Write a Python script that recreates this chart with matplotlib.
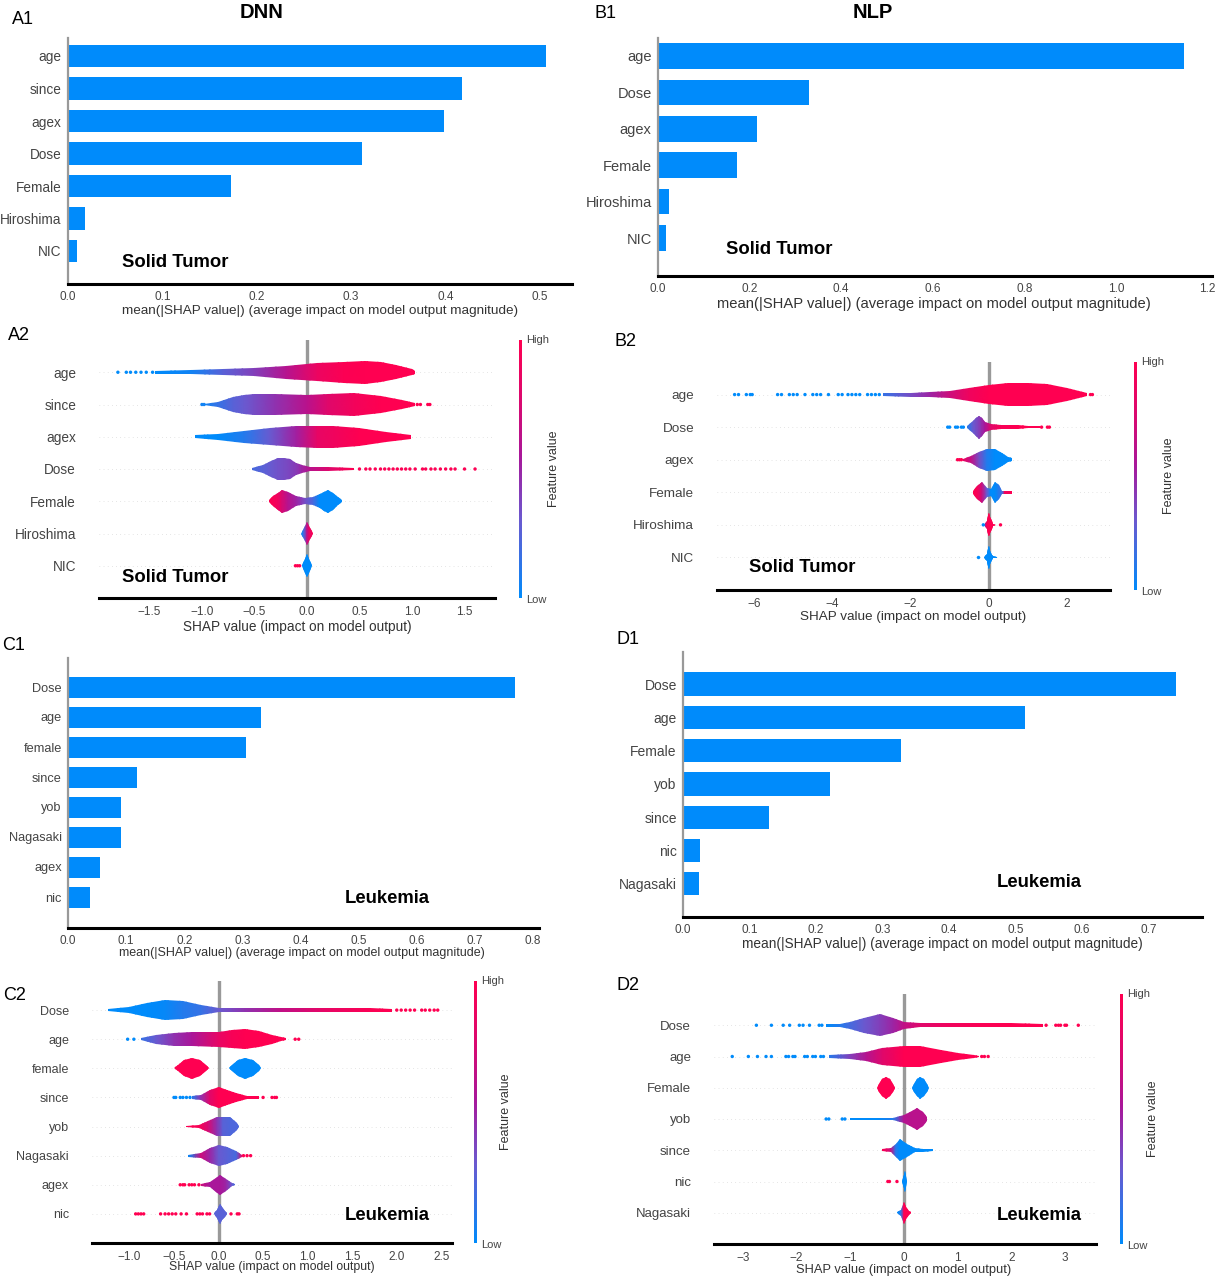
import matplotlib
matplotlib.use('Agg')
import matplotlib.pyplot as plt
import numpy as np
from matplotlib.colors import LinearSegmentedColormap
from matplotlib.patches import Polygon

plt.rcParams['font.family'] = ['Liberation Sans', 'DejaVu Sans']

W, H = 1216, 1280
BLUE = '#008bfb'
TEXT = '#444444'
shap_cmap = LinearSegmentedColormap.from_list(
    'shap', [(0, '#008bfb'), (0.3, '#6a5ad0'), (0.55, '#a9179a'), (0.75, '#d80a72'), (1, '#ff0051')])

# Bar panels
A1_labels = ['age', 'since', 'agex', 'Dose', 'Female', 'Hiroshima', 'NIC']
A1_values = [0.506, 0.4175, 0.3985, 0.312, 0.173, 0.018, 0.0095]
A1_ticks = [0.0, 0.1, 0.2, 0.3, 0.4, 0.5]

B1_labels = ['age', 'Dose', 'agex', 'Female', 'Hiroshima', 'NIC']
B1_values = [1.148, 0.33, 0.216, 0.172, 0.024, 0.017]
B1_ticks = [0.0, 0.2, 0.4, 0.6, 0.8, 1.0, 1.2]

C1_labels = ['Dose', 'age', 'female', 'since', 'yob', 'Nagasaki', 'agex', 'nic']
C1_values = [0.769, 0.332, 0.306, 0.119, 0.091, 0.091, 0.055, 0.038]
C1_ticks = [0.0, 0.1, 0.2, 0.3, 0.4, 0.5, 0.6, 0.7, 0.8]

D1_labels = ['Dose', 'age', 'Female', 'yob', 'since', 'nic', 'Nagasaki']
D1_values = [0.741, 0.514, 0.328, 0.221, 0.129, 0.026, 0.024]
D1_ticks = [0.0, 0.1, 0.2, 0.3, 0.4, 0.5, 0.6, 0.7]

# Violin panels, one entry per feature: knots x, half width, feature colour, stray dots
A2_labels = ['age', 'since', 'agex', 'Dose', 'Female', 'Hiroshima', 'NIC']
A2_ticks = [-1.5, -1.0, -0.5, 0.0, 0.5, 1.0, 1.5]
A2_x = [[-1.45, -1.1, -0.8, -0.5, -0.2, 0.1, 0.35, 0.55, 0.7, 0.85, 1.0, 1.03],
        [-0.98, -0.85, -0.7, -0.6, -0.5, -0.3, 0, 0.2, 0.45, 0.7, 0.9, 1.03],
        [-1.07, -0.85, -0.6, -0.35, -0.1, 0.1, 0.25, 0.5, 0.75, 0.99],
        [-0.52, -0.42, -0.34, -0.28, -0.22, -0.16, -0.1, -0.05, 0.03, 0.2, 0.45],
        [-0.36, -0.32, -0.28, -0.24, -0.18, -0.1, -0.02, 0.06, 0.12, 0.16, 0.2, 0.25, 0.3, 0.33],
        [-0.06, -0.03, 0, 0.02, 0.06],
        [-0.05, -0.02, 0, 0.02, 0.05]]
A2_w = [[.05, .06, .09, .13, .2, .28, .33, .35, .31, .22, .1, .05],
        [.03, .09, .22, .3, .34, .33, .31, .33, .35, .27, .14, .05],
        [.04, .1, .18, .27, .33, .34, .34, .28, .16, .06],
        [.03, .13, .26, .33, .35, .3, .2, .12, .07, .05, .04],
        [.03, .15, .27, .35, .29, .15, .1, .12, .22, .3, .35, .26, .13, .03],
        [0, .17, .35, .22, .01],
        [.01, .22, .35, .22, .01]]
A2_c = [[0, .05, .25, .4, .6, .88, .98, 1, 1, 1, 1, 1],
        [.05, .15, .25, .3, .35, .45, .62, .8, .92, 1, 1, 1],
        [0, 0, .1, .3, .52, .85, .9, 1, 1, 1],
        [.2, .25, .3, .33, .35, .38, .42, .5, .62, .78, 1],
        [1, .95, .9, .75, .6, .5, .35, .2, 0, 0, 0, 0, 0, 0],
        [0, .2, .65, .85, 1],
        [0, 0, 0, 0, 0]]
A2_dots = [[-1.8, -1.72, -1.68, -1.63, -1.58, -1.53, -1.47],
           [-1.0, -0.98, 1.05, 1.08, 1.15, 1.17],
           [],
           [.5, .56, .6, .65, .7, .74, .78, .82, .86, .9, .94, .98, 1.03, 1.1, 1.13, 1.18, 1.22, 1.27, 1.32, 1.37, 1.41, 1.5, 1.6],
           [], [],
           [-.11, -.09, -.07]]
A2_dot_c = [[0] * 7, [.05, .05, 1, 1, 1, 1], [], [.98] * 23, [], [], [1, 1, 1]]

B2_labels = ['age', 'Dose', 'agex', 'Female', 'Hiroshima', 'NIC']
B2_ticks = [-6, -4, -2, 0, 2]
B2_x = [[-2.7, -2, -1.5, -1, -.5, 0, .5, 1, 1.5, 2, 2.3, 2.5],
        [-.55, -.4, -.32, -.25, -.18, -.1, .05, .3, .75, 1.0, 1.3],
        [-.65, -.45, -.25, -.05, .15, .35, .5, .6],
        [-.4, -.3, -.18, -.05, .05, .15, .25, .35, .4, .6],
        [-.12, -.05, -.02, 0, .03, .07, .12, .18],
        [-.12, -.05, -.02, 0, .03, .07, .12, .2]]
B2_w = [[.05, .06, .08, .12, .2, .29, .34, .35, .32, .2, .1, .05],
        [.03, .18, .28, .35, .28, .16, .09, .07, .06, .04, .03],
        [.03, .1, .25, .34, .33, .2, .08, .04],
        [.05, .2, .33, .14, .1, .33, .22, .05, .04, .04],
        [.01, .12, .27, .35, .25, .12, .04, .01],
        [.01, .12, .27, .35, .2, .08, .03, .01]]
B2_c = [[.15, .35, .5, .7, .9, 1, 1, 1, 1, 1, 1, 1],
        [.1, .3, .35, .4, .47, .55, .8, .95, 1, 1, 1],
        [.85, .65, .35, .1, 0, 0, 0, 0],
        [1, .95, .7, .3, 0, 0, .1, .2, .9, 1],
        [.5, .9, 1, 1, 1, 1, 1, 1],
        [0, 0, 0, 0, 0, 0, 0, 0]]
B2_dots = [[-6.5, -6.4, -6.2, -6.1, -6.05, -5.4, -5.3, -5.1, -5.0, -4.9, -4.7, -4.5, -4.4, -4.3, -4.1,
            -3.85, -3.75, -3.6, -3.5, -3.4, -3.3, -3.1, -3.0, -2.9, -2.8, 2.6, 2.65],
           [-1.05, -1.0, -.85, -.8, -.7, -.65, 1.35, 1.5, 1.55],
           [-.8, -.75, -.7],
           [],
           [-.14, .3],
           [-.28]]
B2_dot_c = [[0] * 25 + [1, 1], [0] * 6 + [1] * 3, [1] * 3, [], [0, 1], [0]]

C2_labels = ['Dose', 'age', 'female', 'since', 'yob', 'Nagasaki', 'agex', 'nic']
C2_ticks = [-1.0, -0.5, 0.0, 0.5, 1.0, 1.5, 2.0, 2.5]
C2_x = [[-1.24, -1, -.8, -.6, -.4, -.2, 0, .3, .7, 1.2, 1.7, 1.95],
        [-.87, -.7, -.5, -.3, 0, .15, .3, .45, .6, .7, .76],
        [-.5, -.46, -.39, -.3, -.21, -.14, -.11, .12, .15, .22, .3, .39, .45, .48],
        [-.3, -.2, -.1, 0, .1, .2, .32, .45],
        [-.36, -.22, -.12, -.02, .05, .13, .2, .23],
        [-.34, -.2, -.1, 0, .1, .2, .26],
        [-.2, -.1, -.03, .02, .08, .15, .18],
        [-.05, -.02, 0, .02, .04, .07, .1]]
C2_w = [[.03, .11, .25, .35, .32, .17, .08, .06, .08, .08, .07, .05],
        [.04, .15, .22, .24, .25, .31, .35, .28, .16, .06, .04],
        [0, .1, .27, .35, .27, .1, 0, 0, .1, .27, .35, .27, .1, 0],
        [.04, .1, .25, .35, .26, .14, .05, .04],
        [.03, .05, .2, .33, .34, .33, .14, .03],
        [.03, .08, .25, .35, .3, .15, .03],
        [.03, .08, .25, .35, .2, .05, .02],
        [.02, .15, .27, .35, .22, .1, .02]]
C2_c = [[0, 0, 0, .02, .1, .15, .3, .45, .65, .85, .97, 1],
        [.15, .3, .45, .55, .85, .95, 1, 1, 1, 1, 1],
        [1, 1, 1, 1, 1, 1, 1, 0, 0, 0, 0, 0, 0, 0],
        [.1, .45, .8, 1, 1, 1, 1, 1],
        [1, .95, .75, .45, .25, .22, .22, .22],
        [0, .7, .5, .3, .25, .2, .8],
        [.7, .55, .55, .55, .5, .3, .2],
        [.25, .25, .25, .25, .25, .25, .25]]
C2_dots = [[2.0, 2.05, 2.1, 2.15, 2.2, 2.28, 2.32, 2.37, 2.42, 2.46],
           [-1.02, -.95, .86, .9],
           [],
           [-.5, -.48, -.43, -.4, -.36, -.32, .5, .6, .63, .65],
           [],
           [.28, .32, .36],
           [-.43, -.4, -.38, -.33, -.3, -.27, -.22],
           [-.93, -.9, -.87, -.84, -.65, -.6, -.56, -.52, -.48, -.42, -.36, -.24, -.21, -.18, -.13, -.1, .14, .21, .23]]
C2_dot_c = [[1] * 10, [0, 0, 1, 1], [], [0] * 6 + [1] * 4, [], [1] * 3, [1] * 7, [1] * 19]

D2_labels = ['Dose', 'age', 'Female', 'yob', 'since', 'nic', 'Nagasaki']
D2_ticks = [-3, -2, -1, 0, 1, 2, 3]
D2_x = [[-1.45, -1.2, -1, -.75, -.45, -.2, 0, .3, .8, 1.4, 2, 2.6],
        [-1.4, -1, -.7, -.4, 0, .3, .7, 1, 1.3, 1.4],
        [-.5, -.46, -.4, -.33, -.26, -.2, -.16, .15, .19, .24, .3, .37, .43, .46],
        [-1, -.5, -.2, 0, .15, .25, .35, .43],
        [-.4, -.25, -.15, -.08, .05, .2, .35, .54],
        [-.03, 0, .02, .05],
        [-.13, -.06, 0, .03, .09, .14]]
D2_w = [[.04, .05, .12, .24, .35, .24, .12, .07, .06, .06, .06, .04],
        [.04, .07, .15, .26, .35, .33, .22, .1, .04, .03],
        [0, .12, .27, .35, .27, .12, 0, 0, .12, .27, .35, .27, .12, 0],
        [.03, .03, .04, .12, .25, .35, .22, .07],
        [.03, .06, .2, .35, .2, .06, .04, .03],
        [.02, .2, .35, .02],
        [.02, .1, .35, .2, .07, .02]]
D2_c = [[0, .1, .2, .3, .4, .5, .65, .8, .9, .97, 1, 1],
        [.1, .4, .6, .8, 1, 1, 1, 1, 1, 1],
        [1, 1, 1, 1, 1, 1, 1, 0, 0, 0, 0, 0, 0, 0],
        [0, 0, .1, .6, .62, .62, .62, .62],
        [1, .7, .1, 0, 0, 0, 0, 0],
        [0, 0, 0, 0],
        [0, .1, 1, 1, 1, 1]]
D2_dots = [[-2.75, -2.47, -2.25, -2.13, -1.95, -1.88, -1.76, -1.58, -1.53, 2.65, 2.83, 2.88, 2.92, 3.0, 3.03, 3.25],
           [-3.2, -2.9, -2.73, -2.57, -2.47, -2.2, -2.15, -2.07, -2.03, -1.85, -1.8, -1.7, -1.65, -1.55, -1.5, 1.45, 1.5, 1.57],
           [],
           [-1.45, -1.4, -1.15, -1.1],
           [],
           [-.3, -.27, -.13],
           []]
D2_dot_c = [[0] * 9 + [1] * 7, [0] * 15 + [1] * 3, [], [0] * 4, [], [1] * 3, []]


def px_axes(left, top, right, bottom):
    return fig.add_axes([left / W, 1 - bottom / H, (right - left) / W, (bottom - top) / H])


def px_text(x, y, s, **kw):
    kw.setdefault('ha', 'center')
    kw.setdefault('va', 'center')
    fig.text(x / W, 1 - y / H, s, **kw)


def bar_panel(rect, xlim, first, step, labels, values, ticks, xlabel_pos, xlabel_size, label_size, note, note_pos):
    left, top, right, bottom = rect
    ax = px_axes(*rect)
    ax.barh(range(len(values)), values, height=0.7, color=BLUE)
    ax.set_xlim(0, xlim)
    ax.set_ylim((bottom - first) / step, (top - first) / step)
    ax.set_yticks(range(len(labels)), labels)
    ax.set_xticks(ticks, [f'{t:.1f}' for t in ticks])
    ax.tick_params(axis='y', length=0, labelsize=label_size, labelcolor=TEXT, pad=4.5)
    ax.tick_params(axis='x', length=0, labelsize=8.5, labelcolor=TEXT, pad=5)
    for s in ['top', 'right']:
        ax.spines[s].set_visible(False)
    ax.spines['left'].set_color('#999999')
    ax.spines['left'].set_linewidth(1.6)
    ax.spines['bottom'].set_linewidth(2.2)
    px_text(*xlabel_pos, 'mean(|SHAP value|) (average impact on model output magnitude)', fontsize=xlabel_size, color='#333333')
    px_text(note_pos[0], note_pos[1] + 1.5, note, fontsize=13.3, fontweight='bold', color='black')


def violin_panel(rect, xlim, labels, xs, ws, cs, dots, dot_c, ticks, xlabel_pos, xlabel_size, label_size,
                 note, note_pos, cbar_x, cbar_label_x):
    left, top, right, bottom = rect
    ax = px_axes(*rect)
    n = len(labels)
    ax.axvline(0, color='#999999', lw=2.4, zorder=1)
    for i in range(n):
        ax.axhline(i, color='#cccccc', lw=0.5, dashes=(1, 5), zorder=0)
        x = np.array(xs[i], dtype=float)
        w = np.array(ws[i], dtype=float)
        c = np.array(cs[i], dtype=float)
        X = np.vstack([x, x])
        Y = np.vstack([np.full_like(x, i - 0.5), np.full_like(x, i + 0.5)])
        mesh = ax.pcolormesh(X, Y, np.vstack([c, c]), shading='gouraud', cmap=shap_cmap, vmin=0, vmax=1, zorder=3)
        outline = np.r_[np.c_[x, i - w], np.c_[x[::-1], i + w[::-1]]]
        mesh.set_clip_path(Polygon(outline, closed=True, transform=ax.transData))
        if dots[i]:
            ax.scatter(dots[i], [i] * len(dots[i]), c=dot_c[i], cmap=shap_cmap, vmin=0, vmax=1,
                       s=6, linewidths=0, zorder=3)
    ax.set_xlim(*xlim)
    ax.set_ylim(n, -1)
    ax.set_yticks(range(n), labels)
    ax.set_xticks(ticks)
    ax.tick_params(axis='y', length=0, labelsize=label_size, labelcolor=TEXT, pad=16.5)
    ax.tick_params(axis='x', length=0, labelsize=8.5, labelcolor=TEXT, pad=6)
    for s in ['top', 'right', 'left']:
        ax.spines[s].set_visible(False)
    ax.spines['bottom'].set_linewidth(2.2)
    px_text(*xlabel_pos, 'SHAP value (impact on model output)', fontsize=xlabel_size, color='#333333')
    px_text(note_pos[0], note_pos[1] + 1.5, note, fontsize=13.3, fontweight='bold', color='black')

    cax = px_axes(cbar_x - 1.5, top, cbar_x + 1.5, bottom)
    cax.imshow(np.linspace(1, 0, 256)[:, None], aspect='auto', cmap=shap_cmap, vmin=0, vmax=1)
    cax.axis('off')
    px_text(cbar_x + 6, top, 'High', ha='left', fontsize=8, color=TEXT)
    px_text(cbar_x + 6, bottom + 2, 'Low', ha='left', fontsize=8, color=TEXT)
    px_text(cbar_label_x + 2, (top + bottom) / 2, 'Feature value', rotation=90, fontsize=9, color='#333333')


fig = plt.figure(figsize=(W / 100, H / 100), dpi=100)

bar_panel((68, 38, 572, 284), 0.534, 56, 32.5, A1_labels, A1_values, A1_ticks, (320, 311), 9.7, 9.8, 'Solid Tumor', (175, 261))
bar_panel((658, 38, 1212, 276), 1.21, 56, 36.4, B1_labels, B1_values, B1_ticks, (934, 304), 10.6, 10.5, 'Solid Tumor', (779, 248))
bar_panel((68, 658, 539, 928), 0.81, 687, 30, C1_labels, C1_values, C1_ticks, (302, 953), 9.0, 9.2, 'Leukemia', (387, 897))
bar_panel((683, 652, 1202, 917), 0.78, 684, 33.3, D1_labels, D1_values, D1_ticks, (942, 944), 9.8, 10, 'Leukemia', (1039, 881))

violin_panel((99, 340, 495, 598), (-1.98, 1.79), A2_labels, A2_x, A2_w, A2_c, A2_dots, A2_dot_c, A2_ticks,
             (297, 627), 9.8, 9.8, 'Solid Tumor', (175, 576), 520.5, 552)
violin_panel((717, 362, 1110, 590), (-6.95, 3.1), B2_labels, B2_x, B2_w, B2_c, B2_dots, B2_dot_c, B2_ticks,
             (913, 617), 9.7, 9.7, 'Solid Tumor', (802, 566), 1135, 1167)
violin_panel((92, 981, 452, 1243), (-1.42, 2.62), C2_labels, C2_x, C2_w, C2_c, C2_dots, C2_dot_c, C2_ticks,
             (272, 1267), 8.8, 9, 'Leukemia', (387, 1214), 475, 504)
violin_panel((714, 994, 1096, 1244), (-3.54, 3.58), D2_labels, D2_x, D2_w, D2_c, D2_dots, D2_dot_c, D2_ticks,
             (904, 1270), 9.3, 9.5, 'Leukemia', (1039, 1214), 1121, 1151)

px_text(262, 12, 'DNN', fontsize=14.5, fontweight='bold', color='black')
px_text(873, 12, 'NLP', fontsize=14.5, fontweight='bold', color='black')

panel_tags = ['A1', 'B1', 'A2', 'B2', 'C1', 'D1', 'C2', 'D2']
tag_x = [12, 595, 8, 614, 2, 617, 3, 617]
tag_y = [19, 13, 335, 342, 646, 640, 995, 986]
for tag, x, y in zip(panel_tags, tag_x, tag_y):
    px_text(x, y, tag, ha='left', fontsize=13, color='black')

fig.savefig('out.png', dpi=100)
